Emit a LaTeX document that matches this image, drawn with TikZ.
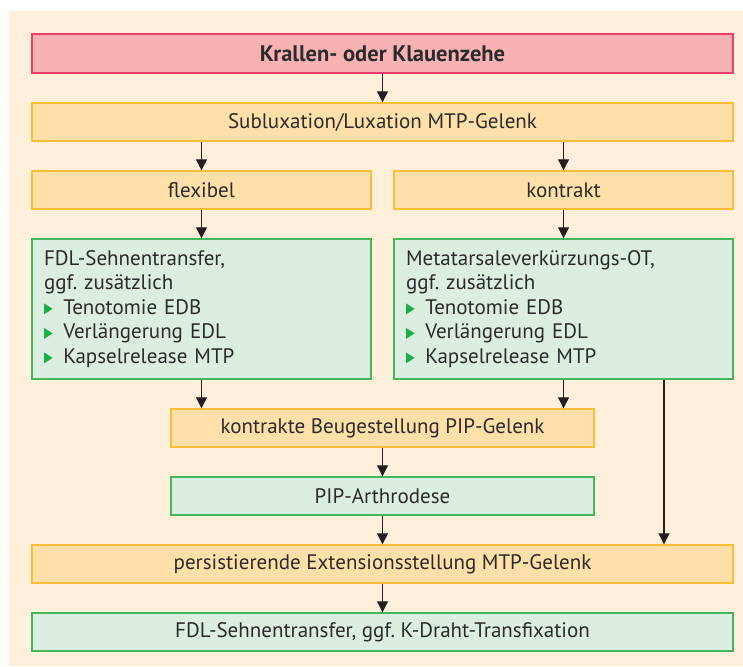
\documentclass[tikz,border=0pt]{standalone}
\usepackage{fontspec}
\setmainfont{PT Sans}
\usetikzlibrary{arrows.meta}
\definecolor{bgc}{HTML}{FEF0DA}
\definecolor{pinkfill}{HTML}{F8B2B4}
\definecolor{pinkdraw}{HTML}{EE3F6B}
\definecolor{orfill}{HTML}{FFE0A9}
\definecolor{ordraw}{HTML}{FBBD36}
\definecolor{grfill}{HTML}{DCEEDF}
\definecolor{grdraw}{HTML}{45B659}
\definecolor{bullet}{HTML}{1DAE4B}
\definecolor{txt}{HTML}{2B2B2B}
\definecolor{arr}{HTML}{231F20}
\newsavebox\tribox
\sbox\tribox{\tikz\fill[bullet] (0,0)--(0,11pt)--(8.6pt,5.5pt)--cycle;}
\newcommand\bul{\usebox\tribox\hspace{10.7pt}}
\frenchspacing
\begin{document}
\begin{tikzpicture}[x=1pt,y=-1pt,
  font=\fontsize{21}{24.5}\selectfont\frenchspacing,
  base/.style={rectangle, inner sep=0pt, line width=1.4pt, text=txt},
  pinkbox/.style={base, fill=pinkfill, draw=pinkdraw},
  orbox/.style={base, fill=orfill, draw=ordraw},
  grbox/.style={base, fill=grfill, draw=grdraw},
  conn/.style={draw=arr, line width=1.1pt, -{Triangle[width=11pt,length=11pt]}}
]
\useasboundingbox (0,0) rectangle (743,666);
\fill[bgc] (9,11) rectangle (743,666);
% boxes
\node (top) [pinkbox, minimum width=701, minimum height=39] at (382.5,53.5) {\fontsize{22.5}{24.5}\selectfont\bfseries Krallen- oder Klauenzehe};
\node (sub) [orbox, minimum width=701, minimum height=38] at (382.5,122) {Subluxation/Luxation MTP-Gelenk};
\node (flex) [orbox, minimum width=339, minimum height=38] at (201.5,190) {flexibel};
\node (kon) [orbox, minimum width=339, minimum height=38] at (563.5,190) {kontrakt};
\node (fdl) [grbox, minimum width=339, minimum height=140, text width=315, align=left, inner xsep=12pt] at (201.5,309)
  {FDL-Sehnentransfer,\\ggf. zusätzlich\\\bul Tenotomie EDB\\\bul Verlängerung EDL\\\bul Kapselrelease MTP};
\node (meta) [grbox, minimum width=339, minimum height=140, text width=315, align=left, inner xsep=12pt] at (563.5,309)
  {Metatarsaleverkürzungs-OT,\\ggf. zusätzlich\\\bul Tenotomie EDB\\\bul Verlängerung EDL\\\bul Kapselrelease MTP};
\node (beuge) [orbox, minimum width=423, minimum height=38] at (382.5,428) {kontrakte Beugestellung PIP-Gelenk};
\node (pip) [grbox, minimum width=423, minimum height=38] at (382.5,496) {PIP-Arthrodese};
\node (pers) [orbox, minimum width=701, minimum height=38] at (382.5,564) {persistierende Extensionsstellung MTP-Gelenk};
\node (fin) [grbox, minimum width=701, minimum height=38] at (382.5,632) {FDL-Sehnentransfer, ggf. K-Draht-Transfixation};
% connectors
\draw[conn] (top) -- (sub);
\draw[conn] (sub.south -| flex.north) -- (flex);
\draw[conn] (sub.south -| kon.north) -- (kon);
\draw[conn] (flex) -- (fdl);
\draw[conn] (kon) -- (meta);
\draw[conn] (fdl.south) -- (fdl.south |- beuge.north);
\draw[conn] (meta.south) -- (meta.south |- beuge.north);
\coordinate (mr) at ([xshift=100.5pt]meta.south);
\draw[conn] (mr) -- (mr |- pers.north);
\draw[conn] (beuge) -- (pip);
\draw[conn] (pip) -- (pers);
\draw[conn] (pers) -- (fin);
\end{tikzpicture}
\end{document}
